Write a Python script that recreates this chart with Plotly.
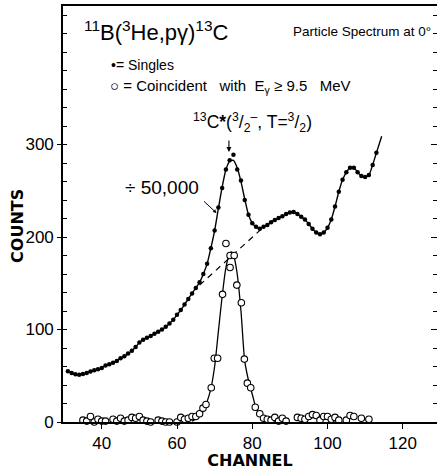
import plotly.graph_objects as go

# ---------------- data ----------------
singles_ch = list(range(31, 114))
singles_counts = [55, 53, 51.5, 51, 52, 53, 54.5, 56, 57, 58.5,
                  61, 62.5, 64, 66, 69, 71, 74, 77, 81, 86,
                  89, 91, 93, 95.5, 97.5, 100, 103, 106.5, 110.5, 116,
                  121, 127, 133, 139, 145, 151, 160, 171, 188, 207,
                  232, 253, 273, 283, 289, 273, 261, 240, 224, 215,
                  211, 209, 211, 213, 216, 218.5, 220.5, 222.5, 225, 226.5,
                  227, 225, 222, 219, 214, 209, 205, 203, 205, 210,
                  219, 233, 249, 262, 270, 275, 275, 270, 266, 265,
                  267, 278, 291]

# smooth curve drawn through the singles
fit_ch = list(range(31, 114)) + [114.4]
fit_counts = [55, 53, 51.5, 51, 52, 53, 54.5, 56, 57, 58.5,
              61, 62.5, 64, 66, 69, 71, 74, 77, 81, 86,
              89, 91, 93, 95.5, 97.5, 100, 103, 106.5, 110.5, 116,
              121, 127, 133, 139, 145, 151, 160, 171, 188, 207,
              231, 254, 273, 282, 283, 275, 260, 241, 224, 215,
              211, 209, 211, 213, 216, 218.5, 220.5, 222.5, 225, 226.5,
              227, 225, 222, 219, 214, 209, 205, 203, 205, 210,
              219, 233, 249, 262, 270, 275, 275, 270, 266, 265,
              267, 278, 291, 309]

# dashed background under the peak
bg_ch = [66, 82.8]
bg_counts = [148, 210]

# coincident spectrum (open circles)
coinc_ch = [35, 36, 37, 38, 39, 40, 41, 42, 43, 44, 45, 46, 47, 48, 49, 50,
            51, 52, 53, 54, 55, 56, 57, 58, 59, 60, 61, 62, 63, 64, 65, 66,
            66.9, 67.7, 69.1, 69.9, 70.8, 72.1, 73, 74.1, 74.1, 75.2, 75.9,
            77.1, 77.9, 78.7, 79.6, 80.8, 82,
            83, 84, 85, 86, 87, 88, 89, 90, 91, 92, 93, 94, 95, 96, 97, 98,
            99, 100, 101, 102, 103, 104, 105, 106, 107, 108, 109, 110, 111]
coinc_counts = [2, 1, 6, 0, 3, 1, 1, -1, 3, 1, 4, 1, 2, 5, 4, 6,
                2, 1, 0, -1, 2, 1, 0, 0, -2, 0, 5, 3, 4, 6, 6, 9,
                15, 19, 37, 69, 69, 138, 193, 167, 180, 180, 148,
                129, 68, 42, 37, 16, 9,
                4, 3, 2, 5, 1, 4, 1, -2, -2, 5, 4, 3, 6, 8, 7, 2,
                6, 6, 3, 5, 2, -1, 2, 7, 6, -1, 4, -1, 3]

# smooth curve through the coincident peak
cfit_ch = [64, 66, 67, 68, 69, 70, 71, 72, 73, 74, 74.5, 75, 76, 77, 78, 79, 80, 81, 82, 83, 84.5]
cfit_counts = [1, 6, 12, 22, 36, 60, 98, 136, 167, 182, 184, 181, 160, 120, 66, 45, 30, 15, 7, 3, 0]

x_ticks = [40, 60, 80, 100, 120]
y_ticks = [0, 100, 200, 300]

# ---------------- layout geometry ----------------
W, H = 437, 470
L, R, T, B = 63, 0, 6, 46
PW, PH = W - L - R, H - T - B
Y_RANGE = [0, 449.8]


def px(x):
    return (x - L) / PW


def py(y):
    return (H - B - y) / PH


FONT = "Liberation Sans"

fig = go.Figure()

fig.add_trace(go.Scatter(x=fit_ch, y=fit_counts, mode="lines",
                         line=dict(color="black", width=1.4, shape="spline", smoothing=0.6),
                         hoverinfo="skip", showlegend=False))
fig.add_trace(go.Scatter(x=bg_ch, y=bg_counts, mode="lines",
                         line=dict(color="black", width=1.2, dash="6px,5px"),
                         hoverinfo="skip", showlegend=False))
fig.add_trace(go.Scatter(x=singles_ch, y=singles_counts, mode="markers",
                         marker=dict(color="black", size=4.5),
                         name="Singles", showlegend=False, cliponaxis=False))
fig.add_trace(go.Scatter(x=cfit_ch, y=cfit_counts, mode="lines",
                         line=dict(color="black", width=1.3, shape="spline", smoothing=0.7),
                         hoverinfo="skip", showlegend=False))
fig.add_trace(go.Scatter(x=coinc_ch, y=coinc_counts, mode="markers",
                         marker=dict(color="white", size=6.5, symbol="circle",
                                     line=dict(color="black", width=1.1)),
                         name="Coincident", showlegend=False, cliponaxis=False))
# invisible trace to carry the right-hand tick axis
fig.add_trace(go.Scatter(x=[None], y=[None], yaxis="y2", showlegend=False, hoverinfo="skip"))

ann = []
# title
ann.append(dict(text="<sup>11</sup>B(<sup>3</sup>He,pγ)<sup>13</sup>C", x=px(82), y=py(31),
                xref="paper", yref="paper", xanchor="left", yanchor="middle",
                showarrow=False, font=dict(family=FONT, size=22, color="black")))
ann.append(dict(text="Particle Spectrum at 0°", x=px(291), y=py(32),
                xref="paper", yref="paper", xanchor="left", yanchor="middle",
                showarrow=False, font=dict(family=FONT, size=13.5, color="black")))
# legend text
ann.append(dict(text="•= Singles", x=px(109), y=py(65),
                xref="paper", yref="paper", xanchor="left", yanchor="middle",
                showarrow=False, font=dict(family=FONT, size=14, color="black")))
ann.append(dict(text="○ =&nbsp;Coincident&nbsp;&nbsp; with&nbsp;&nbsp;E<sub>γ</sub> ≥ 9.5&nbsp;&nbsp; MeV",
                x=px(108), y=py(87),
                xref="paper", yref="paper", xanchor="left", yanchor="middle",
                showarrow=False, font=dict(family=FONT, size=15, color="black")))
# peak label + arrow
ann.append(dict(text="<sup>13</sup>C<b>*</b>(<sup>3</sup>/<sub>2</sub><sup>–</sup>, T=<sup>3</sup>/<sub>2</sub>)",
                x=px(191), y=py(123),
                xref="paper", yref="paper", xanchor="left", yanchor="middle",
                showarrow=False, font=dict(family=FONT, size=17.5, color="black")))
ann.append(dict(text="", x=73.8, y=292, xref="x", yref="y", ax=0, ay=-13,
                showarrow=True, arrowhead=2, arrowsize=0.9, arrowwidth=1.1, arrowcolor="black"))
# scale factor label + arrow
ann.append(dict(text="÷ 50,000", x=px(162), y=py(188),
                xref="paper", yref="paper", xanchor="center", yanchor="middle",
                showarrow=False, font=dict(family=FONT, size=19, color="black")))
ann.append(dict(text="", x=70.5, y=226, xref="x", yref="y", ax=-14, ay=-13,
                showarrow=True, arrowhead=2, arrowsize=0.7, arrowwidth=1.0, arrowcolor="black"))
# y axis title
ann.append(dict(text="<b>COUNTS</b>", x=px(18), y=py(227), textangle=-90,
                xref="paper", yref="paper", xanchor="center", yanchor="middle",
                showarrow=False, font=dict(family="DejaVu Sans", size=16, color="black")))

fig.update_layout(
    width=W, height=H,
    margin=dict(l=L, r=R, t=T, b=B, pad=0),
    paper_bgcolor="white", plot_bgcolor="white",
    annotations=ann,
    xaxis=dict(range=[29.7, 129.1], tickmode="array", tickvals=x_ticks,
               ticktext=[str(v) for v in x_ticks],
               showgrid=False, zeroline=False, showline=True, linecolor="black",
               linewidth=1.6, mirror=True, ticks="outside", ticklen=5, tickwidth=1.3,
               tickcolor="black",
               tickfont=dict(family=FONT, size=17, color="black"),
               title=dict(text="<b>CHANNEL</b>", standoff=6,
                          font=dict(family="DejaVu Sans", size=16, color="black"))),
    yaxis=dict(range=Y_RANGE, tickmode="array", tickvals=y_ticks,
               ticktext=[str(v) for v in y_ticks],
               showgrid=False, zeroline=False, showline=True, linecolor="black",
               linewidth=1.6, mirror=False, ticks="outside", ticklen=4, tickwidth=1.3,
               tickcolor="black",
               minor=dict(tickmode="linear", tick0=0, dtick=20, ticks="inside",
                          ticklen=4, tickwidth=1.1, tickcolor="black"),
               tickfont=dict(family=FONT, size=17, color="black")),
    yaxis2=dict(range=Y_RANGE, overlaying="y", side="right", tickmode="array",
                tickvals=y_ticks, showticklabels=False, showgrid=False, zeroline=False,
                showline=False, ticks="inside", ticklen=6, tickwidth=1.3, tickcolor="black",
                minor=dict(tickmode="linear", tick0=0, dtick=20, ticks="inside",
                           ticklen=4, tickwidth=1.1, tickcolor="black")),
)

fig.write_html("out.html")
